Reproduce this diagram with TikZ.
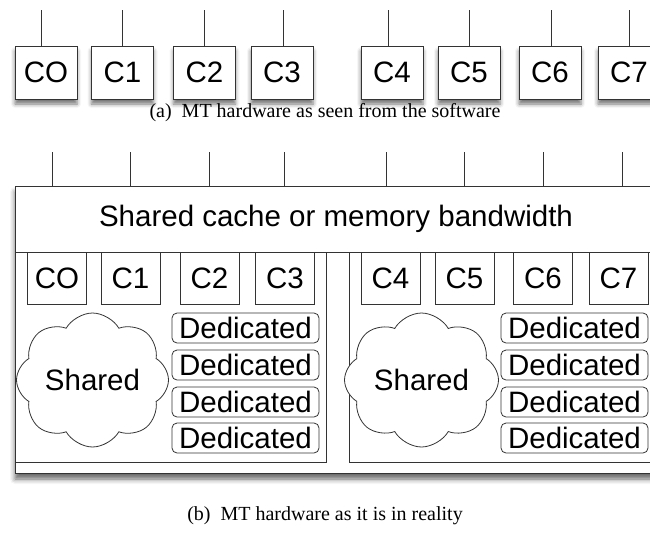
\documentclass[tikz,border=0pt]{standalone}
\usepackage{fontspec}
\setmainfont{Liberation Serif}
\newfontfamily\boxfont{Liberation Sans}
\usetikzlibrary{shapes.symbols,shadows.blur}
\definecolor{ln}{HTML}{333333}
\newcommand{\bfnt}{\boxfont\fontsize{29.5}{31}\selectfont}
\tikzset{
  core/.style={draw=ln,line width=0.9pt,fill=white,minimum width=62pt,minimum height=53pt,inner sep=0pt,font=\bfnt},
  coreshadow/.style={blur shadow={shadow xshift=0pt,shadow yshift=-5pt,shadow blur radius=4pt,shadow opacity=55}},
  small/.style={draw=ln,line width=0.8pt,fill=white,minimum width=59pt,minimum height=52pt,inner sep=0pt,font=\bfnt},
  ded/.style={draw=ln,line width=0.8pt,rounded corners=5pt,fill=white,minimum width=147pt,minimum height=30pt,inner sep=0pt,font=\bfnt},
  shcloud/.style={cloud,cloud puffs=8,cloud puff arc=120,cloud ignores aspect,draw=ln,line width=0.8pt,fill=white,minimum width=152pt,minimum height=134pt,inner sep=0pt,font=\bfnt},
  wire/.style={draw=ln,line width=0.8pt},
  captxt/.style={font=\fontsize{20}{22}\selectfont,inner sep=0pt},
  panel/.style={draw=ln,line width=0.8pt}
}
\begin{document}
\begin{tikzpicture}[x=1pt,y=-1pt]
\useasboundingbox (0,0) rectangle (650,549);
\clip (0,0) rectangle (650,549);
% ---------- (a) ----------
\foreach \nm/\lab/\cx/\lx in {a0/CO/46/41, a1/C1/122.5/122, a2/C2/204.5/204, a3/C3/282/283, a4/C4/392/388, a5/C5/469/469, a6/C6/550/551, a7/C7/629/629}{
  \node[core,coreshadow] (\nm) at (\cx,72.5) {\lab};
  \coordinate (\nm t) at (\lx,10);
  \draw[wire] (\nm t) -- (\nm t |- \nm.north);
}
\node[captxt] (capa) at (325,113) {(a)\ \ MT hardware as seen from the software};
% ---------- (b) ----------
\node[draw=ln,line width=1pt,fill=white,minimum width=645pt,minimum height=287pt,inner sep=0pt,
  blur shadow={shadow xshift=0pt,shadow yshift=-6pt,shadow blur radius=5pt,shadow opacity=60}] (outer) at (337.5,329.5) {};
\coordinate (sepL) at (15,252);
\coordinate (sepR) at (660,252);
\draw[panel] (sepL) -- (sepR);
\node[font=\bfnt,inner sep=0pt] (cache) at (336,219) {Shared cache or memory bandwidth};
\foreach \nm/\lx in {b0/52,b1/130,b2/209,b3/284,b4/386,b5/464,b6/543,b7/622}{
  \coordinate (\nm t) at (\lx,152);
  \draw[wire] (\nm t) -- (\nm t |- outer.north);
}
\draw[panel] (15,252) rectangle (326,462);
\draw[panel] (349,252) rectangle (662,462);
\foreach \nm/\lab/\cx in {c0/CO/57, c1/C1/130.5, c2/C2/209.5, c3/C3/285, c4/C4/390.5, c5/C5/464.5, c6/C6/543, c7/C7/618.5}{
  \node[small] (\nm) at (\cx,278) {\lab};
}
\node[shcloud] (cl) at (92.5,380) {Shared};
\node[shcloud,minimum width=154pt] (cr) at (421.5,380) {Shared};
\foreach \i/\cy in {1/328,2/365,3/402,4/438}{
  \node[ded] (dl\i) at (245.5,\cy) {Dedicated};
  \node[ded] (dr\i) at (574.5,\cy) {Dedicated};
}
\node[captxt] (capb) at (325,516) {(b)\ \ MT hardware as it is in reality};
\end{tikzpicture}
\end{document}
